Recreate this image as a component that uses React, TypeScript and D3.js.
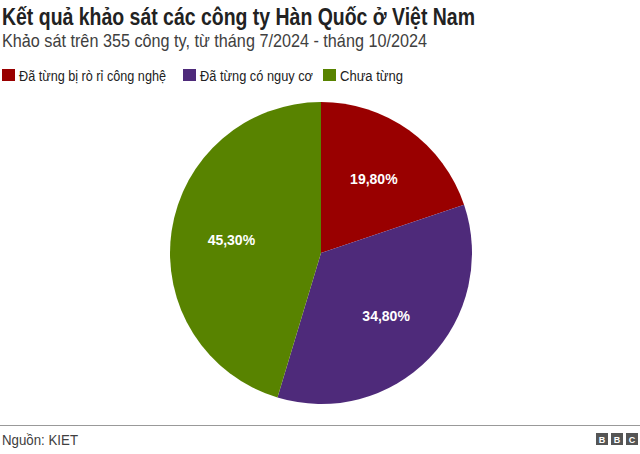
import React from "react";
import * as d3 from "d3";

const categories = ["Đã từng bị rò rỉ công nghệ", "Đã từng có nguy cơ", "Chưa từng"];
const values = [19.8, 34.8, 45.3];
const labels = ["19,80%", "34,80%", "45,30%"];
const colors = ["#990000", "#4e2a7a", "#588300"];

const W = 640;
const H = 454;
const FONT = "'Liberation Sans', Arial, Helvetica, sans-serif";

export default function App() {
  const cx = 321;
  const cy = 253;
  const R = 151;
  const pie = d3.pie<number>().sort(null).value((d) => d);
  const arcs = pie(values);
  const arcGen = d3.arc<d3.PieArcDatum<number>>().innerRadius(0).outerRadius(R);
  const labelArc = d3.arc<d3.PieArcDatum<number>>().innerRadius(R * 0.6).outerRadius(R * 0.6);

  const legendX = [2, 183, 323];
  const legendW = [147, 113, 63];

  return (
    <svg
      width={W}
      height={H}
      style={{ position: "absolute", left: 0, top: 0, background: "#fff" }}
      fontFamily={FONT}
    >
      <text x={2} y={25} fontSize={23} fontWeight="bold" fill="#222" textLength={473} lengthAdjust="spacingAndGlyphs">
        Kết quả khảo sát các công ty Hàn Quốc ở Việt Nam
      </text>
      <text x={2} y={47} fontSize={19} fill="#404040" textLength={425} lengthAdjust="spacingAndGlyphs">
        Khảo sát trên 355 công ty, từ tháng 7/2024 - tháng 10/2024
      </text>
      {categories.map((c, i) => (
        <g key={c}>
          <rect x={legendX[i]} y={69} width={13} height={12} fill={colors[i]} />
          <text
            x={legendX[i] + 17}
            y={81}
            fontSize={15.5}
            fill="#222"
            textLength={legendW[i]}
            lengthAdjust="spacingAndGlyphs"
          >
            {c}
          </text>
        </g>
      ))}
      <g transform={`translate(${cx},${cy})`}>
        {arcs.map((a, i) => (
          <path key={i} d={arcGen(a) || ""} fill={colors[i]} />
        ))}
        {arcs.map((a, i) => {
          const [x, y] = labelArc.centroid(a);
          return (
            <text
              key={"l" + i}
              x={x}
              y={y}
              textAnchor="middle"
              dominantBaseline="central"
              fontSize={14}
              fontWeight="bold"
              fill="#fff"
            >
              {labels[i]}
            </text>
          );
        })}
      </g>
      <line x1={0} x2={640} y1={425.5} y2={425.5} stroke="#999" strokeWidth={1} />
      <text x={2} y={445} fontSize={14.5} fill="#404040" textLength={76} lengthAdjust="spacingAndGlyphs">
        Nguồn: KIET
      </text>
      {["B", "B", "C"].map((t, i) => (
        <g key={i} transform={`translate(${596 + i * 15},${433})`}>
          <rect width={12} height={12} fill="#555" />
          <text x={6} y={9.5} fontSize={9} fontWeight="bold" fill="#fff" textAnchor="middle">
            {t}
          </text>
        </g>
      ))}
    </svg>
  );
}
